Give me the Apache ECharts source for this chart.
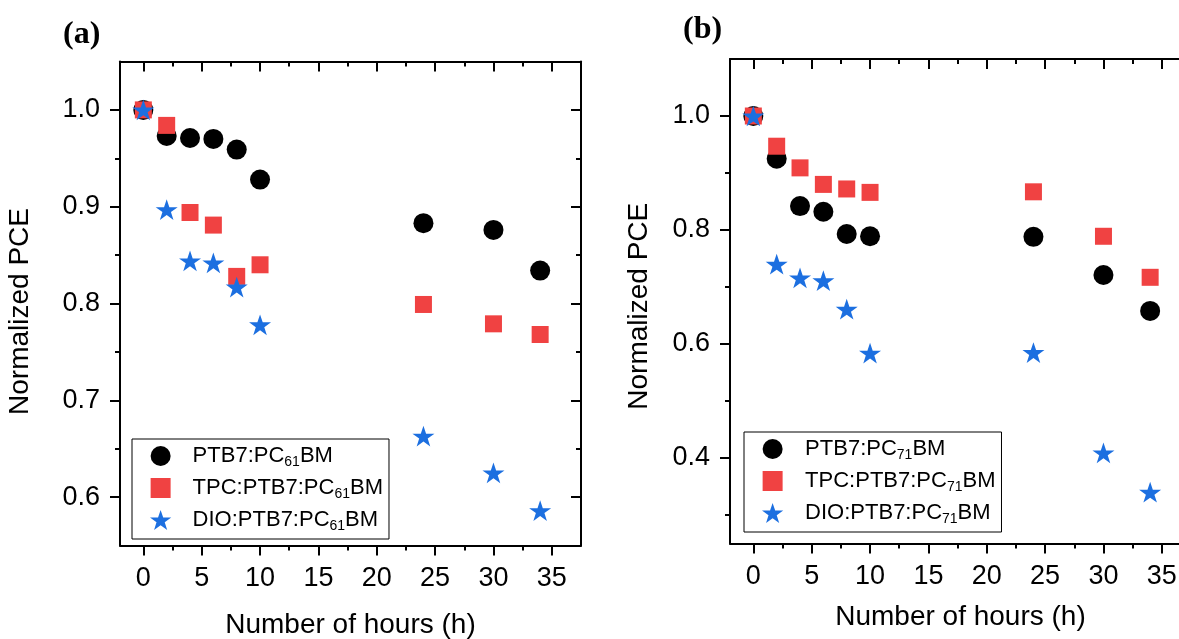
<!DOCTYPE html>
<html>
<head>
<meta charset="utf-8">
<script src="https://cdn.jsdelivr.net/npm/echarts@6/dist/echarts.min.js"></script>
<style>
html,body{margin:0;padding:0;background:#fff;}
#chart{width:1179px;height:639px;}
</style>
</head>
<body>
<div id="chart"></div>
<script>
// ---------- data ----------
const hours = [0, 2, 4, 6, 8, 10, 24, 30, 34];
// panel (a) PC61BM
const pc61_ptb7 = [1.000, 0.973, 0.971, 0.970, 0.959, 0.928, 0.883, 0.876, 0.834];
const pc61_tpc  = [1.000, 0.984, 0.894, 0.881, 0.828, 0.840, 0.799, 0.779, 0.768];
const pc61_dio  = [1.000, 0.897, 0.844, 0.842, 0.817, 0.778, 0.663, 0.625, 0.586];
// panel (b) PC71BM
const pc71_ptb7 = [1.000, 0.925, 0.842, 0.832, 0.793, 0.789, 0.788, 0.721, 0.658];
const pc71_tpc  = [1.000, 0.947, 0.909, 0.880, 0.872, 0.866, 0.867, 0.789, 0.717];
const pc71_dio  = [1.000, 0.740, 0.716, 0.711, 0.661, 0.584, 0.585, 0.409, 0.340];

const namesA = ['PTB7:PC61BM', 'TPC:PTB7:PC61BM', 'DIO:PTB7:PC61BM'];
const namesB = ['PTB7:PC71BM', 'TPC:PTB7:PC71BM', 'DIO:PTB7:PC71BM'];

const xMajorTicks = [0, 5, 10, 15, 20, 25, 30, 35];
const xMinorTicks = [2.5, 7.5, 12.5, 17.5, 22.5, 27.5, 32.5];
const yMajorTicksA = [0.6, 0.7, 0.8, 0.9, 1.0];
const yMinorTicksA = [0.65, 0.75, 0.85, 0.95];
const yMajorTicksB = [0.4, 0.6, 0.8, 1.0];
const yMinorTicksB = [0.3, 0.5, 0.7, 0.9];

const xTitle = 'Number of hours (h)';
const yTitle = 'Normalized PCE';
const panelLabels = ['(a)', '(b)'];

// ---------- styles ----------
const FONT = '"Liberation Sans", Arial, sans-serif';
const BLACK = '#000000';
const RED = '#F04242';
const BLUE = '#1C6FE0';
const STAR = 'path://M50,0 L61.8,35.1 L98.9,35.1 L68.9,56.9 L80.2,92.1 L50,70.3 L19.8,92.1 L31.1,56.9 L1.1,35.1 L38.2,35.1 Z';
const SQUARE = 'path://M0,0 L10,0 L10,10 L0,10 Z';

function pairs(xs, ys) { return xs.map((x, i) => [x, ys[i]]); }

const lineStyle = { color: BLACK, width: 2 };

function xAxes(gridIndex, min, max, nameGap) {
  const base = { type: 'value', gridIndex, min, max, splitLine: { show: false } };
  return [
    Object.assign({}, base, {
      position: 'bottom',
      name: xTitle, nameLocation: 'middle', nameGap: nameGap,
      nameTextStyle: { fontFamily: FONT, fontSize: 28, color: BLACK },
      axisLine: { show: true, onZero: false, lineStyle },
      axisTick: { show: true, inside: false, length: 10, customValues: xMajorTicks, lineStyle },
      axisLabel: { show: true, margin: 20, fontFamily: FONT, fontSize: 27, color: BLACK, customValues: xMajorTicks }
    }),
    Object.assign({}, base, {
      position: 'bottom',
      axisLine: { show: false, onZero: false },
      axisTick: { show: true, inside: false, length: 5, customValues: xMinorTicks, lineStyle },
      axisLabel: { show: false }
    }),
    Object.assign({}, base, {
      position: 'top',
      axisLine: { show: true, onZero: false, lineStyle },
      axisTick: { show: true, inside: true, length: 10, customValues: xMajorTicks, lineStyle },
      axisLabel: { show: false }
    }),
    Object.assign({}, base, {
      position: 'top',
      axisLine: { show: false, onZero: false },
      axisTick: { show: true, inside: true, length: 5, customValues: xMinorTicks, lineStyle },
      axisLabel: { show: false }
    })
  ];
}

function yAxes(gridIndex, min, max, major, minor, nameGap, namePad) {
  const base = { type: 'value', gridIndex, min, max, splitLine: { show: false } };
  return [
    Object.assign({}, base, {
      position: 'left',
      name: yTitle, nameLocation: 'middle', nameGap: nameGap,
      nameTextStyle: { fontFamily: FONT, fontSize: 28, color: BLACK, padding: [0, namePad, 0, 0] },
      axisLine: { show: true, onZero: false, lineStyle },
      axisTick: { show: true, inside: false, length: 10, customValues: major, lineStyle },
      axisLabel: { show: true, margin: 20, fontFamily: FONT, fontSize: 27, color: BLACK,
                   customValues: major, formatter: v => v.toFixed(1) }
    }),
    Object.assign({}, base, {
      position: 'left',
      axisLine: { show: false, onZero: false },
      axisTick: { show: true, inside: false, length: 5, customValues: minor, lineStyle },
      axisLabel: { show: false }
    }),
    Object.assign({}, base, {
      position: 'right',
      axisLine: { show: true, onZero: false, lineStyle },
      axisTick: { show: true, inside: true, length: 10, customValues: major, lineStyle },
      axisLabel: { show: false }
    }),
    Object.assign({}, base, {
      position: 'right',
      axisLine: { show: false, onZero: false },
      axisTick: { show: true, inside: true, length: 5, customValues: minor, lineStyle },
      axisLabel: { show: false }
    })
  ];
}

function scatter(name, xIdx, yIdx, data, symbol, size, color) {
  return {
    type: 'scatter', name, xAxisIndex: xIdx, yAxisIndex: yIdx,
    data, symbol, symbolSize: size, symbolKeepAspect: true,
    itemStyle: { color, opacity: 1 },
    emphasis: { disabled: true }, silent: true, animation: false
  };
}

function subFormatter(name) {
  return name.replace(/PC(\d\d)BM/, 'PC{sub|$1}BM');
}

function legend(left, top, names, itemWidth, padLeft) {
  return {
    show: true, orient: 'vertical', left, top,
    data: [
      { name: names[0], icon: 'circle' },
      { name: names[1], icon: SQUARE },
      { name: names[2], icon: STAR }
    ],
    itemWidth, itemHeight: 20, itemGap: 6, symbolKeepAspect: true,
    borderColor: BLACK, borderWidth: 1, borderRadius: 0,
    padding: [4, 6, 6, padLeft],
    backgroundColor: '#fff',
    selectedMode: false,
    formatter: subFormatter,
    textStyle: {
      fontFamily: FONT, fontSize: 22, color: BLACK, lineHeight: 26,
      rich: { sub: { fontFamily: FONT, fontSize: 14, lineHeight: 14, verticalAlign: 'bottom', color: BLACK } }
    }
  };
}

const chart = echarts.init(document.getElementById('chart'), null, { renderer: 'canvas' });
chart.setOption({
  animation: false,
  backgroundColor: '#fff',
  title: [
    { text: panelLabels[0], left: 58, top: 14, textStyle: { fontFamily: '"Liberation Serif", "Times New Roman", serif', fontWeight: 'bold', fontSize: 32, color: BLACK } },
    { text: panelLabels[1], left: 678, top: 9, textStyle: { fontFamily: '"Liberation Serif", "Times New Roman", serif', fontWeight: 'bold', fontSize: 32, color: BLACK } }
  ],
  grid: [
    { left: 120, top: 61.5, width: 461, height: 484, outerBoundsMode: 'none', containLabel: false },
    { left: 730, top: 59, width: 461, height: 484.5, outerBoundsMode: 'none', containLabel: false }
  ],
  xAxis: xAxes(0, -2, 37.5, 66).concat(xAxes(1, -2, 37.5, 60)),
  yAxis: yAxes(0, 0.55, 1.05, yMajorTicksA, yMinorTicksA, 86, 16).concat(yAxes(1, 0.25, 1.1, yMajorTicksB, yMinorTicksB, 77, 10)),
  legend: [
    legend(132, 439, namesA, 54, 18),
    legend(744, 432, namesB, 55, 18)
  ],
  series: [
    scatter(namesA[0], 0, 0, pairs(hours, pc61_ptb7), 'circle', 20, BLACK),
    scatter(namesA[1], 0, 0, pairs(hours, pc61_tpc), SQUARE, 17, RED),
    scatter(namesA[2], 0, 0, pairs(hours, pc61_dio), STAR, 22, BLUE),
    scatter(namesB[0], 4, 4, pairs(hours, pc71_ptb7), 'circle', 20, BLACK),
    scatter(namesB[1], 4, 4, pairs(hours, pc71_tpc), SQUARE, 17, RED),
    scatter(namesB[2], 4, 4, pairs(hours, pc71_dio), STAR, 22, BLUE)
  ]
});
</script>
</body>
</html>
